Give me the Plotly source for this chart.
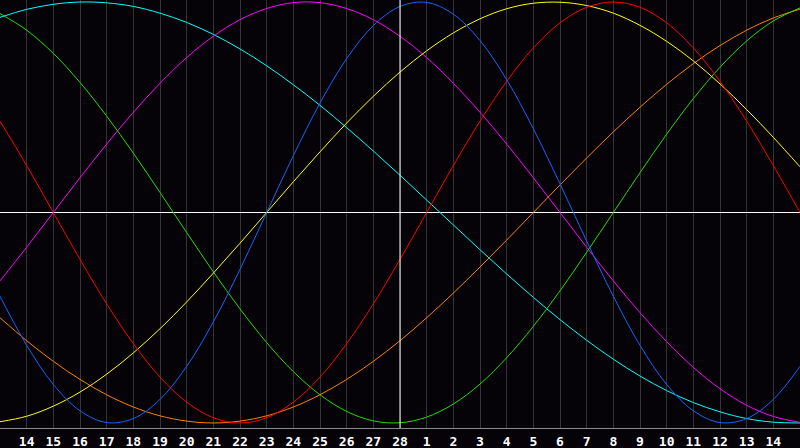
#Biorhythm chart - seven cycles around today (28th)
import plotly.graph_objects as go

#Day positions across the chart (0..30), today sits in the middle at 15
days = list(range(31))

#Tick labels under the grid lines (positions 1..29)
tick_pos = list(range(1, 30))
tick_labels = ["14", "15", "16", "17", "18", "19", "20", "21", "22", "23", "24", "25", "26", "27", "28",
               "1", "2", "3", "4", "5", "6", "7", "8", "9", "10", "11", "12", "13", "14"]

#Values for each day (-1 .. 1)
red = [0.434, 0.223, 0.0, -0.223, -0.434, -0.623, -0.782, -0.901, -0.975, -1.0, -0.975,
       -0.901, -0.782, -0.623, -0.434, -0.223, 0.0, 0.223, 0.434, 0.623, 0.782, 0.901,
       0.975, 1.0, 0.975, 0.901, 0.782, 0.623, 0.434, 0.223, 0.0]
blue = [-0.398, -0.631, -0.817, -0.942, -0.998, -0.979, -0.888, -0.731, -0.520, -0.270, 0.0,
        0.270, 0.520, 0.731, 0.888, 0.979, 0.998, 0.942, 0.817, 0.631, 0.398, 0.136,
        -0.136, -0.398, -0.631, -0.817, -0.942, -0.998, -0.979, -0.888, -0.731]
yellow = [-0.994, -0.968, -0.920, -0.853, -0.768, -0.667, -0.552, -0.425, -0.288, -0.146, 0.0,
          0.146, 0.288, 0.425, 0.552, 0.667, 0.768, 0.853, 0.920, 0.968, 0.994, 0.999,
          0.983, 0.947, 0.889, 0.813, 0.720, 0.611, 0.489, 0.357, 0.217]
magenta = [-0.325, -0.165, 0.0, 0.165, 0.325, 0.476, 0.614, 0.736, 0.837, 0.916, 0.969,
           0.997, 0.997, 0.969, 0.916, 0.837, 0.736, 0.614, 0.476, 0.325, 0.165, 0.0,
           -0.165, -0.325, -0.476, -0.614, -0.736, -0.837, -0.916, -0.969, -0.997]
green = [0.945, 0.866, 0.756, 0.618, 0.458, 0.282, 0.095, -0.095, -0.282, -0.458, -0.618,
         -0.756, -0.866, -0.945, -0.990, -0.999, -0.972, -0.910, -0.815, -0.690, -0.541,
         -0.372, -0.189, 0.0, 0.189, 0.372, 0.541, 0.690, 0.815, 0.910, 0.972]
cyan = [0.927, 0.965, 0.989, 1.0, 0.996, 0.979, 0.947, 0.903, 0.846, 0.777, 0.697,
        0.607, 0.509, 0.403, 0.292, 0.177, 0.059, -0.059, -0.177, -0.292, -0.403,
        -0.509, -0.607, -0.697, -0.777, -0.846, -0.903, -0.947, -0.979, -0.996, -1.0]
orange = [-0.5, -0.609, -0.707, -0.793, -0.866, -0.924, -0.966, -0.991, -1.0, -0.991, -0.966,
          -0.924, -0.866, -0.793, -0.707, -0.609, -0.5, -0.383, -0.259, -0.131, 0.0,
          0.131, 0.259, 0.383, 0.5, 0.609, 0.707, 0.793, 0.866, 0.924, 0.966]

series = [("cyan", cyan, "#00ffff"), ("magenta", magenta, "#ff00ff"),
          ("orange", orange, "#ff8000"), ("green", green, "#22dd00"),
          ("yellow", yellow, "#ffff00"), ("red", red, "#ff0000"),
          ("blue", blue, "#1464ff")]

fig = go.Figure()
for name, vals, col in series:
    fig.add_trace(go.Scatter(x=days, y=vals, name=name, mode="lines",
                             line=dict(color=col, width=1, shape="spline", smoothing=1.0)))

#today marker
fig.add_vline(x=15, line_color="white", line_width=1, layer="above")

fig.update_layout(
    width=800, height=448,
    margin=dict(l=0, r=0, t=0, b=20, autoexpand=False),
    paper_bgcolor="#050307", plot_bgcolor="#050307",
    showlegend=False,
    xaxis=dict(range=[0, 30], tickvals=tick_pos, ticktext=tick_labels, automargin=False,
               showgrid=True, gridcolor="#353535", gridwidth=1,
               zeroline=False, showline=True, linecolor="#8a8a8a", linewidth=1, mirror=True,
               ticks="", ticklabelstandoff=1,
               tickfont=dict(family="DejaVu Sans Mono", size=13, color="white", weight="bold")),
    yaxis=dict(range=[-1.0238, 1.0095], showgrid=False, showticklabels=False, automargin=False,
               zeroline=True, zerolinecolor="white", zerolinewidth=1,
               showline=True, linecolor="#8a8a8a", linewidth=1, mirror=True),
)

#page body has a default margin, drop it so the chart fills the window
fig.write_html("out.html", config={"displayModeBar": False},
               post_script="document.body.style.margin='0';document.body.style.overflow='hidden';")
